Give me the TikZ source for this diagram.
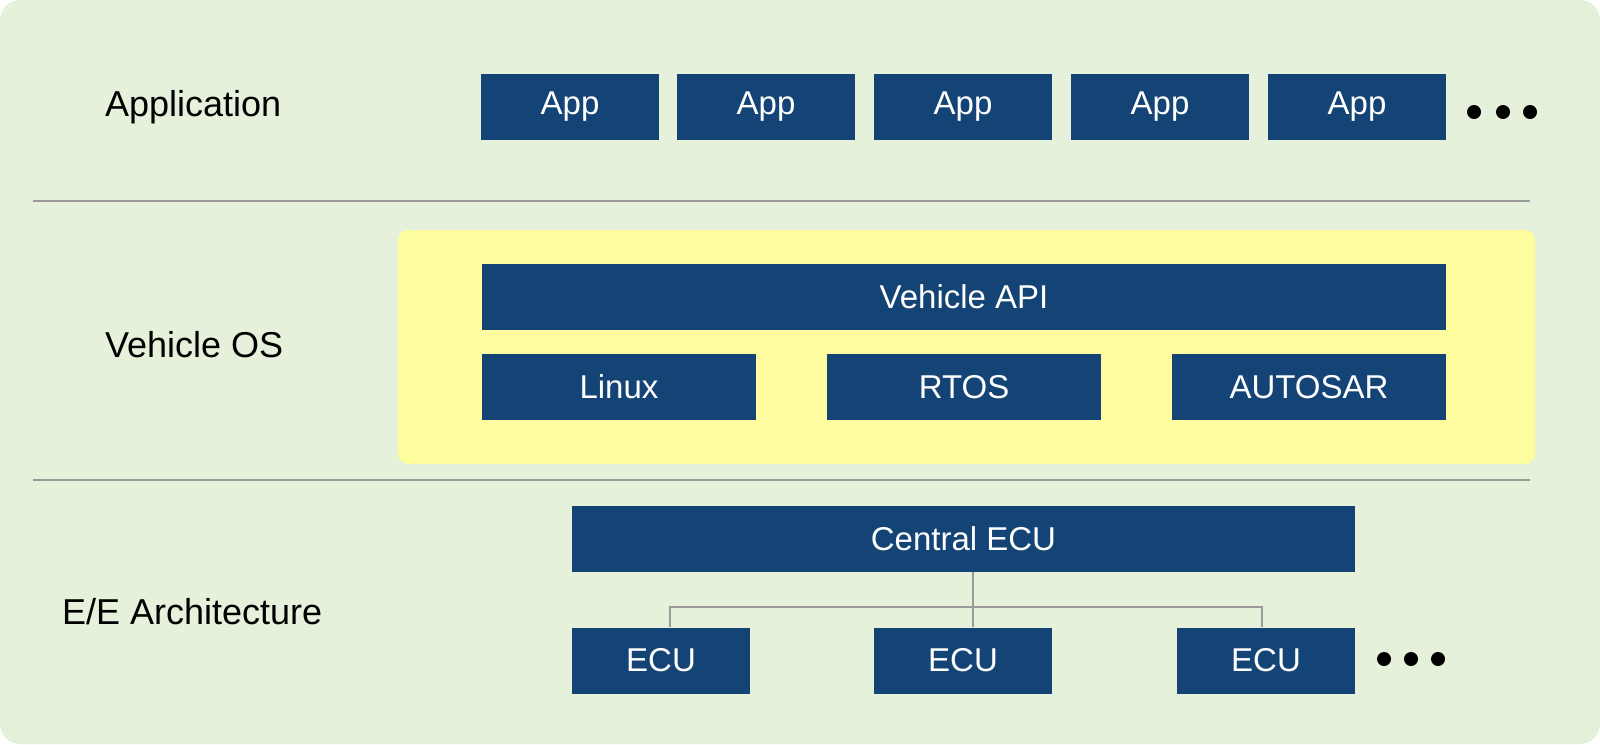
\documentclass[tikz,border=0pt]{standalone}
\usepackage{fontspec}
\setmainfont{Liberation Sans}
\usetikzlibrary{positioning}
\definecolor{bggreen}{HTML}{E5F1DA}
\definecolor{boxblue}{HTML}{144475}
\definecolor{osyellow}{HTML}{FDFC9F}
\definecolor{rulegray}{HTML}{9A9A9A}
\tikzset{
  blk/.style={fill=boxblue, text=white, minimum height=33pt, inner sep=0pt, font=\fontsize{16.5}{18}\selectfont},
  layer/.style={anchor=west, font=\fontsize{18}{20}\selectfont},
  sep/.style={rulegray, line width=1.1pt},
  bus/.style={rulegray, line width=1pt},
  dot/.style={circle, fill=black, inner sep=0pt, minimum size=7pt}
}
\begin{document}
\begin{tikzpicture}[x=0.5pt,y=-0.5pt]
  % background
  \fill[bggreen, rounded corners=10pt] (0,0) rectangle (1600,744);
  \useasboundingbox (0,0) rectangle (1600,744);
  % layer titles
  \node[layer] (application) at (98,107) {Application};
  \node[layer] (vehicleos) at (98,345) {Vehicle OS};
  \node[layer] (eearch) at (55,612) {E/E Architecture};
  % separators
  \draw[sep] (33,201) -- (1530,201);
  \draw[sep] (33,480) -- (1530,480);
  % application row
  \foreach \x [count=\i] in {570,766,963,1160,1357}
    \node[blk, minimum width=89pt] (app\i) at (\x,107) {App};
  \foreach \x in {1474,1503,1530}
    \node[dot] at (\x,112) {};
  % vehicle os
  \fill[osyellow, rounded corners=5pt] (398,230) rectangle (1535,464);
  \node[blk, minimum width=482pt] (api) at (964,296.5) {Vehicle API};
  \node[blk, minimum width=137pt] (linux) at (619,387) {Linux};
  \node[blk, minimum width=137pt] (rtos) at (964,387) {RTOS};
  \node[blk, minimum width=137pt] (autosar) at (1309,387) {AUTOSAR};
  % e/e architecture
  \node[blk, minimum width=391.5pt] (central) at (963.5,539) {Central ECU};
  \node[blk, minimum width=89pt] (ecu1) at (661,660.5) {ECU};
  \node[blk, minimum width=89pt] (ecu2) at (963,660.5) {ECU};
  \node[blk, minimum width=89pt] (ecu3) at (1266,660.5) {ECU};
  \coordinate (split) at (973,607);
  \draw[bus] (central.south -| split) -- (split);
  \draw[bus] (ecu1.north -| 670,0) |- (split) -| (ecu3.north -| 1262,0);
  \draw[bus] (split) -- (ecu2.north -| split);
  \foreach \x in {1384,1411,1438}
    \node[dot] at (\x,659) {};
\end{tikzpicture}
\end{document}
